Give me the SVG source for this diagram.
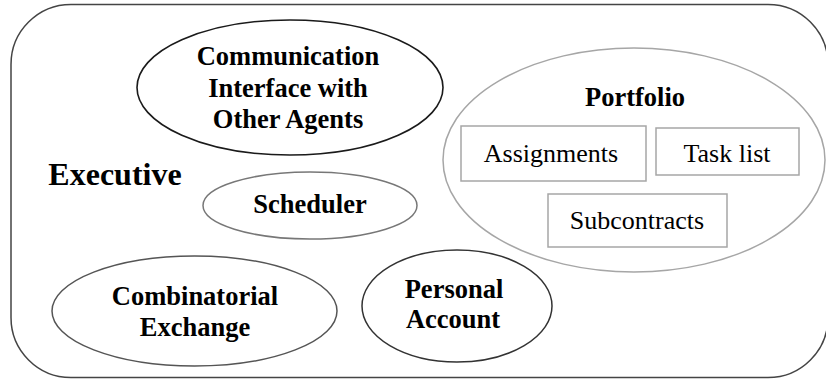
<svg xmlns="http://www.w3.org/2000/svg" width="826" height="379" viewBox="0 0 826 379">
<style>
.box{fill:#fff;stroke:#a6a6a6;stroke-width:1.5}
</style>
<rect width="826" height="379" fill="#fff"/>
<g id="executive">
<rect x="11" y="4.5" width="817" height="373" rx="60" ry="60" fill="none" stroke="#444" stroke-width="1.5"/>
<text x="115" y="185" font-family="Liberation Serif, serif" font-weight="bold" font-size="32" text-anchor="middle">Executive</text>
</g>
<g id="communication">
<ellipse cx="290" cy="87.5" rx="153" ry="67.5" fill="none" stroke="#1a1a1a" stroke-width="1.6"/>
<text x="288" y="65" font-family="Liberation Serif, serif" font-weight="bold" font-size="26.5" text-anchor="middle">Communication</text>
<text x="288" y="97" font-family="Liberation Serif, serif" font-weight="bold" font-size="26.5" text-anchor="middle">Interface with</text>
<text x="288" y="128" font-family="Liberation Serif, serif" font-weight="bold" font-size="26.5" text-anchor="middle">Other Agents</text>
</g>
<g id="portfolio">
<ellipse cx="634" cy="160" rx="191" ry="112" fill="none" stroke="#a6a6a6" stroke-width="1.5"/>
<text x="635" y="106" font-family="Liberation Serif, serif" font-weight="bold" font-size="26.5" text-anchor="middle">Portfolio</text>
<g id="assignments"><rect class="box" x="461" y="126" width="185" height="55"/><text x="551" y="162" font-family="Liberation Serif, serif" font-size="26" text-anchor="middle">Assignments</text></g>
<g id="tasklist"><rect class="box" x="656" y="128" width="143" height="47"/><text x="727" y="162" font-family="Liberation Serif, serif" font-size="26" text-anchor="middle">Task list</text></g>
<g id="subcontracts"><rect class="box" x="548" y="194" width="179" height="53"/><text x="637" y="229" font-family="Liberation Serif, serif" font-size="26" text-anchor="middle">Subcontracts</text></g>
</g>
<g id="scheduler">
<ellipse cx="310" cy="205.5" rx="107" ry="33.5" fill="none" stroke="#777" stroke-width="1.5"/>
<text x="310" y="213" font-family="Liberation Serif, serif" font-weight="bold" font-size="26.5" text-anchor="middle">Scheduler</text>
</g>
<g id="combinatorial">
<ellipse cx="194.5" cy="311" rx="142.5" ry="55" fill="none" stroke="#555" stroke-width="1.5"/>
<text x="195" y="305" font-family="Liberation Serif, serif" font-weight="bold" font-size="26.5" text-anchor="middle">Combinatorial</text>
<text x="195" y="336" font-family="Liberation Serif, serif" font-weight="bold" font-size="26.5" text-anchor="middle">Exchange</text>
</g>
<g id="personal">
<ellipse cx="457" cy="306" rx="95" ry="56" fill="none" stroke="#333" stroke-width="1.5"/>
<text x="454" y="298" font-family="Liberation Serif, serif" font-weight="bold" font-size="26.5" text-anchor="middle">Personal</text>
<text x="453" y="328" font-family="Liberation Serif, serif" font-weight="bold" font-size="26.5" text-anchor="middle">Account</text>
</g>
<g id="connectors"/>
</svg>
